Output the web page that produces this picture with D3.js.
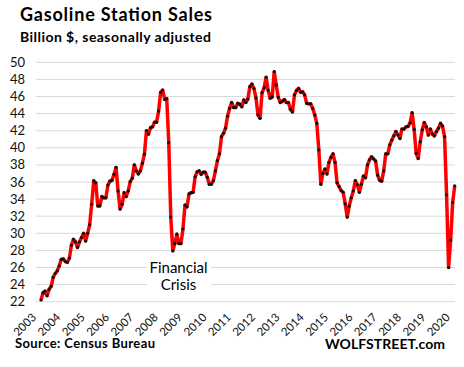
<!DOCTYPE html>
<html><head><meta charset="utf-8">
<script src="https://cdn.jsdelivr.net/npm/d3@7"></script>
<style>body{margin:0;background:#fff}svg{display:block}text{font-family:Lato,"Open Sans",sans-serif}</style>
</head><body><svg id="c" width="464" height="367"></svg>
<script>
// Monthly gasoline station sales, billion $, mid-2003 .. mid-2020
const sales = [
22.2,23.05,23.25,22.7,23.45,23.8,24.85,25.3,25.6,26.2,26.95,27.0,
26.7,26.6,27.1,28.6,29.3,29.0,28.35,29.0,29.5,30.0,29.1,30.0,
31.0,33.4,36.15,35.9,33.2,33.2,34.3,34.15,34.15,35.65,36.1,36.2,
36.9,37.7,34.95,32.85,33.4,34.75,34.3,34.95,36.05,36.45,38.0,37.3,
36.95,37.3,38.2,39.25,42.0,41.6,42.35,42.45,43.0,43.0,44.3,46.5,
46.75,45.65,45.75,40.6,31.9,27.95,28.8,29.9,28.8,28.8,30.5,33.3,
33.1,34.6,34.75,34.8,36.6,37.2,37.3,36.9,37.15,37.15,36.55,35.75,
35.75,36.15,37.3,38.5,39.3,41.3,41.7,42.3,43.7,44.6,45.3,44.7,
44.7,45.2,45.1,44.8,45.6,45.3,45.7,47.15,47.45,46.95,45.85,43.85,
43.45,46.45,47.0,48.25,46.75,45.8,45.95,48.9,47.35,45.9,45.3,45.45,
45.65,45.3,45.3,44.5,44.2,46.2,46.7,46.95,46.5,46.55,46.2,45.2,
45.15,45.15,44.6,43.85,42.85,39.75,35.75,37.0,37.5,36.95,38.3,38.9,
39.3,38.3,35.9,35.45,35.0,34.8,33.45,31.9,33.2,34.15,34.95,36.15,
35.7,34.8,35.75,36.7,36.5,38.0,38.6,38.95,38.7,38.45,36.8,36.2,
36.1,37.3,39.3,39.3,40.35,40.9,41.4,41.9,41.5,41.1,42.2,42.2,
42.45,42.5,42.9,44.1,42.15,39.35,38.75,40.7,42.1,42.95,42.45,41.5,
42.2,41.6,41.4,41.9,42.3,42.85,42.55,41.3,34.5,26.0,29.2,33.6,
35.55
];
const yearLabels = ["2003","2004","2005","2006","2007","2008","2009","2010","2011",
  "2012","2013","2014","2015","2016","2017","2018","2019","2020"];
const yTicks = [22,24,26,28,30,32,34,36,38,40,42,44,46,48,50];
const texts = {
  title: "Gasoline Station Sales",
  subtitle: "Billion $, seasonally adjusted",
  note1: "Financial", note2: "Crisis",
  source: "Source: Census Bureau",
  brand: "WOLFSTREET.com"
};

const svg = d3.select("#c");
const x = d3.scaleLinear().domain([0, sales.length - 1]).range([41, 454.7]);
const y = d3.scaleLinear().domain([22, 50]).range([301.7, 62.3]);

// gridlines
svg.append("g").selectAll("line").data(yTicks).join("line")
  .attr("x1", 36).attr("x2", 455)
  .attr("y1", d => y(d)).attr("y2", d => y(d))
  .attr("stroke", "#d9d9d9").attr("stroke-width", 1);

// y labels
svg.append("g").selectAll("text").data(yTicks).join("text")
  .attr("x", 25).attr("y", d => y(d)).attr("dy", "0.35em")
  .attr("text-anchor", "end").attr("font-size", 13).attr("fill", "#111")
  .text(d => d);

// x labels
svg.append("g").selectAll("text").data(yearLabels).join("text")
  .attr("transform", (d, i) => `translate(${x(i * 12) - 4},318) rotate(-45)`)
  .attr("text-anchor", "end").attr("font-size", 11.5).attr("fill", "#111")
  .text(d => d);

// annotation with white box
svg.append("rect").attr("x", 147).attr("y", 258).attr("width", 64).attr("height", 35).attr("fill", "#fff");
svg.append("text").attr("x", 178.5).attr("y", 272.5).attr("text-anchor", "middle")
  .attr("font-size", 15).attr("fill", "#000").text(texts.note1);
svg.append("text").attr("x", 178.5).attr("y", 290).attr("text-anchor", "middle")
  .attr("font-size", 15).attr("fill", "#000").text(texts.note2);

// line
const line = d3.line().x((d, i) => x(i)).y(d => y(d));
svg.append("path").datum(sales).attr("d", line)
  .attr("fill", "none").attr("stroke", "#ff0000").attr("stroke-width", 3.5)
  .attr("stroke-linejoin", "round");
svg.append("g").selectAll("circle").data(sales).join("circle")
  .attr("cx", (d, i) => x(i)).attr("cy", d => y(d)).attr("r", 1.6).attr("fill", "#111");

// titles
svg.append("text").attr("x", 20).attr("y", 21).attr("font-size", 18).attr("font-weight", 700)
  .attr("textLength", 192).attr("fill", "#000").text(texts.title);
svg.append("text").attr("x", 20).attr("y", 41.5).attr("font-size", 14).attr("font-weight", 700)
  .attr("textLength", 191).attr("fill", "#000").text(texts.subtitle);
svg.append("text").attr("x", 15).attr("y", 348).attr("font-size", 13).attr("font-weight", 700)
  .attr("textLength", 140).attr("fill", "#000").text(texts.source);
svg.append("text").attr("x", 325).attr("y", 348.5).attr("font-size", 14).attr("font-weight", 700)
  .attr("textLength", 120).attr("fill", "#000").text(texts.brand);
</script></body></html>
